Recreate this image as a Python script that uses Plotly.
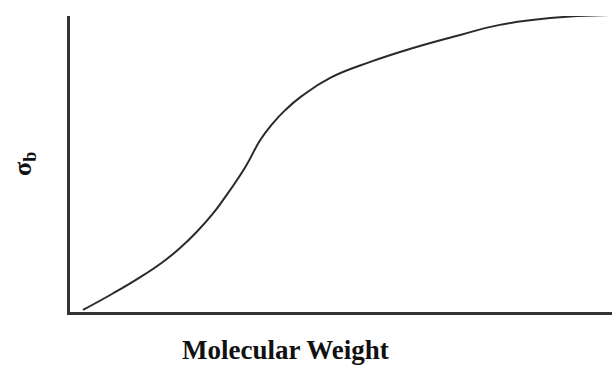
import plotly.graph_objects as go

# Breaking strength versus molecular weight (arbitrary units)
mol_weight = [2.4, 7.9, 12.9, 17.2, 20.3, 23.4, 26.4, 28.2, 32.3, 35.1, 37.3,
              39.7, 42.8, 48.0, 55.4, 63.3, 72.0, 79.3, 88.6, 99.6]
sigma_b = [0.7, 6.25, 11.7, 17.0, 21.6, 27.1, 33.3, 37.7, 48.8, 58.1, 63.5,
           68.2, 73.0, 79.1, 84.5, 89.2, 93.6, 97.0, 99.3, 100.3]

fig = go.Figure()
fig.add_trace(go.Scatter(
    x=mol_weight, y=sigma_b, mode="lines",
    line=dict(color="#2a2a2a", width=2, shape="spline", smoothing=1.3),
    hoverinfo="skip", showlegend=False,
))

axis_common = dict(
    showgrid=False, zeroline=False, showticklabels=False, ticks="",
    showline=True, linecolor="#333333", linewidth=2.5,
)
fig.update_xaxes(range=[0, 100], **axis_common)
fig.update_yaxes(range=[0, 100], **axis_common)

fig.add_annotation(
    text="<b>Molecular Weight</b>", xref="paper", yref="paper",
    x=0.398, y=-0.128, xanchor="center", yanchor="middle", showarrow=False,
    font=dict(family="Liberation Serif", size=27, color="#111111"),
)
fig.add_annotation(
    text="<b>σ<sub>b</sub></b>", xref="paper", yref="paper",
    x=-0.085, y=0.5, xanchor="center", yanchor="middle", showarrow=False,
    textangle=-90,
    font=dict(family="Liberation Serif", size=26, color="#111111"),
)

fig.update_layout(
    width=612, height=367,
    margin=dict(l=70, r=0, t=16, b=55),
    paper_bgcolor="white", plot_bgcolor="white",
)

fig.write_html("out.html")
